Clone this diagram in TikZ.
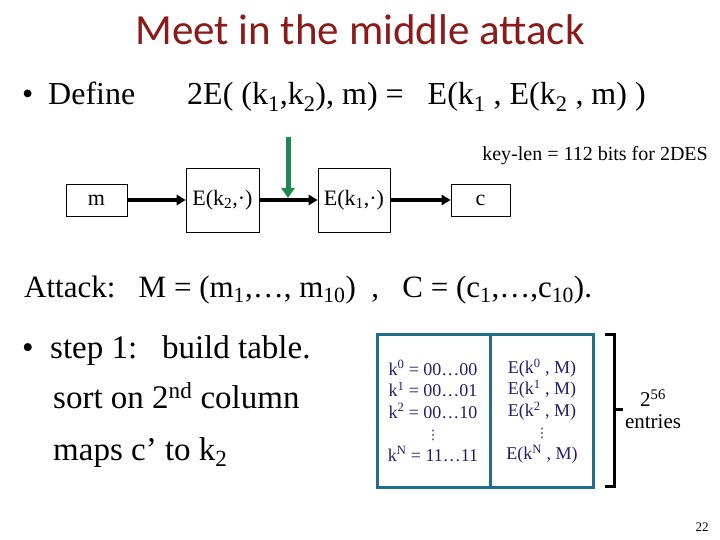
\documentclass[tikz,border=0pt]{standalone}
\usepackage{fontspec}
\setmainfont{Liberation Serif}
\newfontfamily\titlefont{Carlito}
\newfontfamily\djfont{DejaVu Sans}
\usetikzlibrary{arrows.meta}
\definecolor{titlered}{HTML}{8B1A1A}
\definecolor{tabblue}{HTML}{1F6E8C}
\definecolor{navy}{HTML}{1F1F6E}
\definecolor{arrgreen}{HTML}{1E8A50}
\tikzset{
  blk/.style={draw=black, line width=0.6pt, inner sep=0pt, font=\fontsize{22}{24}\selectfont},
  flow/.style={line width=3.5pt, -{Triangle[length=9pt,width=10pt]}},
  body/.style={anchor=base west, inner sep=0pt},
  tab/.style={font=\fontsize{18}{21.5}\selectfont, text=navy, align=center, inner sep=0pt}
}
\begin{document}
\begin{tikzpicture}[x=1pt,y=-1pt]
\useasboundingbox (0,0) rectangle (720,540);
% title
\node[font=\titlefont\fontsize{43}{46}\selectfont, text=titlered] (title) at (360,30) {Meet in the middle attack};
% define line
\node[body, font=\fontsize{32}{34}\selectfont] (b1) at (22,105) {\textbullet};
\node[body, font=\fontsize{32}{34}\selectfont] (def) at (48,105) {Define};
\node[body, font=\fontsize{32}{34}\selectfont] (eq) at (187,105) {2E( (k\textsubscript{1},k\textsubscript{2}), m) =\ \ \ E(k\textsubscript{1} , E(k\textsubscript{2} , m) )};
% key-len
\node[anchor=base east, inner sep=0pt, font=\fontsize{20}{22}\selectfont] (kl) at (708,161) {key-len = 112 bits for 2DES};
% boxes
\node[blk, minimum width=61pt, minimum height=32pt] (m) at (96.5,200) {m};
\node[blk, minimum width=73pt, minimum height=64pt] (e2) at (222.5,200) {E(k\textsubscript{2},·)};
\node[blk, minimum width=72pt, minimum height=64pt] (e1) at (354,200) {E(k\textsubscript{1},·)};
\node[blk, minimum width=59pt, minimum height=32pt] (c) at (480.5,200) {c};
\draw[flow] (m) -- (e2);
\draw[flow] (e2) -- (e1);
\draw[flow] (e1) -- (c);
\coordinate (gtop) at (288,137);
\coordinate (gbot) at (288,198);
\draw[line width=5pt, draw=arrgreen, -{Triangle[length=10pt,width=13pt]}] (gtop) -- (gbot);
% attack line
\node[body, font=\fontsize{31}{33}\selectfont] (att) at (24,297) {Attack:\ \ \ M = (m\textsubscript{1},…, m\textsubscript{10})\ \ ,\ \ \ C = (c\textsubscript{1},…,c\textsubscript{10}).};
% step lines
\node[body, font=\fontsize{33}{35}\selectfont] (b2) at (22,358) {\textbullet};
\node[body, font=\fontsize{33}{35}\selectfont] (s1) at (50,358) {step 1:\ \ \ build table.};
\node[body, font=\fontsize{33}{35}\selectfont] (s2) at (53,408) {sort on 2\textsuperscript{nd} column};
\node[body, font=\fontsize{33}{35}\selectfont] (s3) at (53,460) {maps c’ to k\textsubscript{2}};
% table
\draw[draw=tabblue, line width=3pt] (377,334) rectangle (593,487);
\draw[draw=tabblue, line width=3pt] (490,334) -- (490,487);
\node[tab] (col1) at (433,411) {k\textsuperscript{0} = 00…00\\k\textsuperscript{1} = 00…01\\k\textsuperscript{2} = 00…10\\{\djfont\fontsize{13}{21.5}\selectfont ⋮}\\k\textsuperscript{N} = 11…11};
\node[tab] (col2) at (542,411) {E(k\textsuperscript{0} , M)\\E(k\textsuperscript{1} , M)\\E(k\textsuperscript{2} , M)\\{\djfont\fontsize{13}{21.5}\selectfont ⋮}\\E(k\textsuperscript{N} , M)};
% brace
\draw[line width=3pt] (605,334) -- (614,334) -- (614,486) -- (605,486);
\draw[line width=3pt] (614,409) -- (623,409);
\node[font=\fontsize{21}{22}\selectfont, align=center, inner sep=0pt] (ent) at (653,409) {2\textsuperscript{56}\\entries};
\node[font=\fontsize{13}{14}\selectfont, inner sep=0pt] (pg) at (702,527) {22};
\end{tikzpicture}
\end{document}
